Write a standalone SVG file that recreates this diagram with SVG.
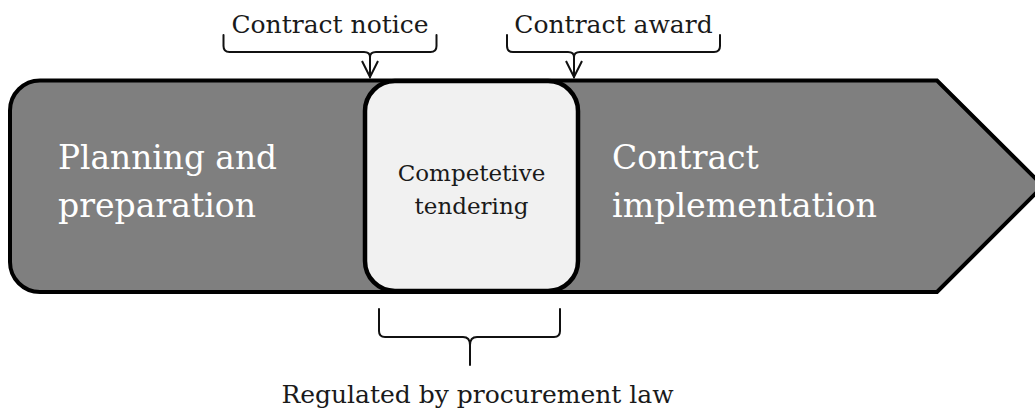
<svg xmlns="http://www.w3.org/2000/svg" width="1035" height="410" viewBox="0 0 1035 410">
  <style>
    .label { font-family: "DejaVu Serif", "Liberation Serif", serif; fill: #1a1a1a; }
    .phase { font-family: "DejaVu Serif", "Liberation Serif", serif; fill: #ffffff; font-size: 33px; }
    .brace { fill: none; stroke: #111111; stroke-width: 2; stroke-linejoin: round; stroke-linecap: round; }
  </style>
  <defs>
    <marker id="vhead" viewBox="0 0 20 20" refX="18" refY="10" markerWidth="20" markerHeight="20" markerUnits="userSpaceOnUse" orient="auto">
      <path d="M2,2 L18,10 L2,18" fill="none" stroke="#111111" stroke-width="2"/>
    </marker>
  </defs>

  <!-- Process arrow: planning through implementation -->
  <g id="process-arrow">
    <path d="M40,80.5 L937,80.5 L1043,186 L937,292 L40,292 A30,30 0 0 1 10,262 L10,110.5 A30,30 0 0 1 40,80.5 Z"
          fill="#7f7f7f" stroke="#000000" stroke-width="4" stroke-linejoin="miter"/>
  </g>

  <g id="planning">
    <text class="phase" x="58" y="169" textLength="219" lengthAdjust="spacingAndGlyphs">Planning and</text>
    <text class="phase" x="58" y="217" textLength="198" lengthAdjust="spacingAndGlyphs">preparation</text>
  </g>

  <g id="implementation">
    <text class="phase" x="612" y="169">Contract</text>
    <text class="phase" x="612" y="217" textLength="265" lengthAdjust="spacingAndGlyphs">implementation</text>
  </g>

  <!-- Tendering stage box -->
  <g id="tendering">
    <rect x="365" y="81" width="213" height="210" rx="30" ry="30" fill="#f1f1f1" stroke="#000000" stroke-width="4.5"/>
    <text class="label" x="471.5" y="181" font-size="23" text-anchor="middle">Competetive</text>
    <text class="label" x="471.5" y="214" font-size="23" text-anchor="middle">tendering</text>
  </g>

  <!-- Milestone labels -->
  <g id="contract-notice">
    <text class="label" x="330" y="33" font-size="25" text-anchor="middle">Contract notice</text>
  </g>
  <g id="contract-award">
    <text class="label" x="613.5" y="33" font-size="25" text-anchor="middle">Contract award</text>
  </g>
  <g id="procurement-law">
    <text class="label" x="477.5" y="403" font-size="25" text-anchor="middle">Regulated by procurement law</text>
  </g>

  <!-- Braces and pointers -->
  <g id="connectors">
    <path class="brace" d="M223.5,35 L223.5,46 Q223.5,52 229.5,52 L364,52 Q370,52 370,57 Q370,52 376,52 L430.5,52 Q436.5,52 436.5,46 L436.5,35"/>
    <path class="brace" d="M370,57 L370,77" marker-end="url(#vhead)"/>

    <path class="brace" d="M507,35 L507,46 Q507,52 513,52 L568,52 Q574,52 574,57 Q574,52 580,52 L714,52 Q720,52 720,46 L720,35"/>
    <path class="brace" d="M574,57 L574,77" marker-end="url(#vhead)"/>

    <path class="brace" d="M379,309 L379,331 Q379,337 385,337 L463,337 Q470,337 470,345 L470,365 M470,345 Q470,337 477,337 L554,337 Q560,337 560,331 L560,309"/>
  </g>
</svg>
